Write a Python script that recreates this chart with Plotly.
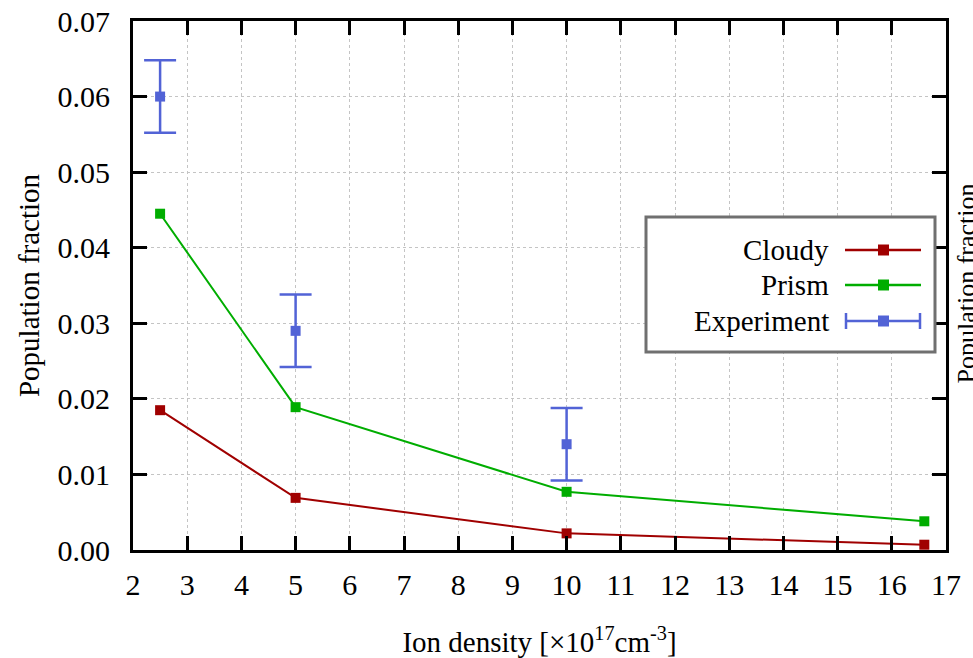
import plotly.graph_objects as go

# Ion density (x10^17 cm^-3)
density = [2.5, 5.0, 10.0, 16.6]

# Population fractions
cloudy = [0.0185, 0.0069, 0.0022, 0.0007]
prism = [0.0445, 0.0189, 0.0077, 0.0038]

exp_density = [2.5, 5.0, 10.0]
experiment = [0.0600, 0.0290, 0.0140]
exp_error = [0.0048, 0.0048, 0.0048]

x_ticks = list(range(2, 18))
y_ticks = [0.00, 0.01, 0.02, 0.03, 0.04, 0.05, 0.06, 0.07]

C_CLOUDY = "#a00000"
C_PRISM = "#00ad00"
C_EXP = "#5263d6"
FONT = "Times New Roman, Liberation Serif, DejaVu Serif, serif"

W, H = 973, 658
L, R, T, B = 133, 27, 21, 108

fig = go.Figure()
fig.add_trace(go.Scatter(x=density, y=cloudy, mode="lines+markers", name="Cloudy",
                         line=dict(color=C_CLOUDY, width=2),
                         marker=dict(symbol="square", size=10, color=C_CLOUDY)))
fig.add_trace(go.Scatter(x=density, y=prism, mode="lines+markers", name="Prism",
                         line=dict(color=C_PRISM, width=2),
                         marker=dict(symbol="square", size=10, color=C_PRISM)))
fig.add_trace(go.Scatter(x=exp_density, y=experiment, mode="markers", name="Experiment",
                         marker=dict(symbol="square", size=10, color=C_EXP),
                         error_y=dict(type="data", array=exp_error, color=C_EXP,
                                      thickness=2.5, width=16)))

axis_common = dict(
    showline=True, linecolor="black", linewidth=3, mirror="allticks",
    ticks="inside", ticklen=14, tickwidth=2.5, tickcolor="black",
    showgrid=True, gridcolor="#c4c4c4", griddash="dot", gridwidth=1,
    zeroline=False, tickfont=dict(family=FONT, size=30, color="black"),
)

fig.update_xaxes(range=[2, 17], tickvals=x_ticks, ticklabelstandoff=6, automargin=False,
                 title=dict(text="Ion density [×10<sup>17</sup>cm<sup>-3</sup>]",
                            font=dict(family=FONT, size=29, color="black"), standoff=32),
                 **axis_common)
fig.update_yaxes(range=[0, 0.07], tickvals=y_ticks, tickformat=".2f", ticklabelstandoff=14,
                 automargin=False,
                 title=dict(text="Population fraction",
                            font=dict(family=FONT, size=29, color="black"), standoff=10),
                 **axis_common)


def px_x(p):
    return (p - L) / (W - L - R)


def px_y(p):
    return (H - B - p) / (H - T - B)


# Legend box with keys on the right of labels
shapes = [dict(type="rect", xref="paper", yref="paper",
               x0=px_x(646), x1=px_x(935), y0=px_y(352), y1=px_y(217),
               line=dict(color="#707070", width=3), fillcolor="white", layer="above")]
annotations = []
rows = [("Cloudy", C_CLOUDY, 250, False), ("Prism", C_PRISM, 285, False),
        ("Experiment", C_EXP, 321, True)]
for label, col, py, err in rows:
    annotations.append(dict(text=label, xref="paper", yref="paper", x=px_x(831), y=px_y(py),
                            xanchor="right", yanchor="middle", showarrow=False,
                            font=dict(family=FONT, size=29, color="black")))
    shapes.append(dict(type="line", xref="paper", yref="paper", x0=px_x(845), x1=px_x(921),
                       y0=px_y(py), y1=px_y(py), line=dict(color=col, width=2.5), layer="above"))
    shapes.append(dict(type="rect", xref="paper", yref="paper", x0=px_x(878), x1=px_x(889),
                       y0=px_y(py + 5.5), y1=px_y(py - 5.5), line=dict(width=0),
                       fillcolor=col, layer="above"))
    if err:
        for ex in (846, 920):
            shapes.append(dict(type="line", xref="paper", yref="paper", x0=px_x(ex), x1=px_x(ex),
                               y0=px_y(py + 8), y1=px_y(py - 8),
                               line=dict(color=col, width=2.5), layer="above"))

# Secondary axis label at the right edge
annotations.append(dict(text="Population fraction", xref="paper", yref="paper",
                        x=px_x(949), y=px_y(284), xanchor="left", yanchor="middle",
                        textangle=-90, showarrow=False,
                        font=dict(family=FONT, size=26, color="black")))

fig.update_layout(
    width=W, height=H, margin=dict(l=L, r=R, t=T, b=B),
    paper_bgcolor="white", plot_bgcolor="white", showlegend=False,
    font=dict(family=FONT),
    shapes=shapes, annotations=annotations,
)

fig.write_html("out.html")
